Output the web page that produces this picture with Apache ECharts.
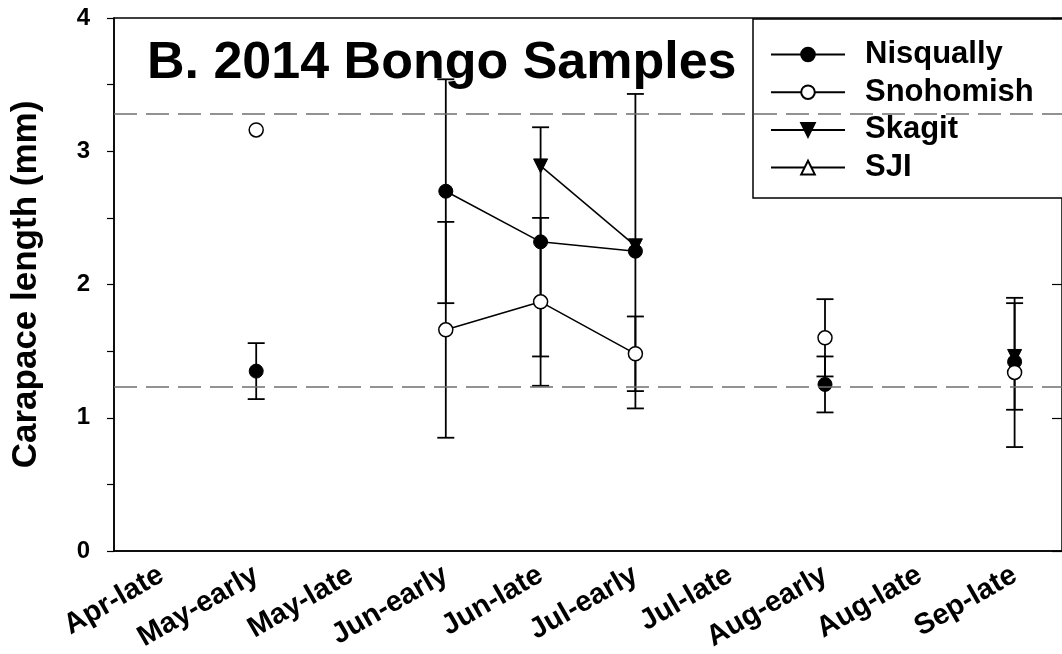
<!DOCTYPE html>
<html>
<head>
<meta charset="utf-8">
<title>2014 Bongo Samples</title>
<script src="https://cdn.jsdelivr.net/npm/echarts@6/dist/echarts.min.js"></script>
<style>
    html, body { margin: 0; padding: 0; background: #fff; }
    #chart { width: 1062px; height: 654px; }
</style>
</head>
<body>
<div id="chart"></div>
<script>
// ===== Data =====
const categories = ["Apr-late", "May-early", "May-late", "Jun-early", "Jun-late",
    "Jul-early", "Jul-late", "Aug-early", "Aug-late", "Sep-late"];

const nisqually    = [null, 1.35, null, 2.70, 2.32, 2.25, null, 1.25, null, 1.42];
const nisquallyErr = [null, 0.21, null, 0.84, 0.86, 1.18, null, 0.21, null, null];

const snohomish    = [null, 3.16, null, 1.66, 1.87, 1.48, null, 1.60, null, 1.34];
const snohomishErr = [null, null, null, 0.81, 0.63, 0.28, null, 0.29, null, 0.56];

const skagit    = [null, null, null, null, 2.89, 2.29, null, null, null, 1.46];
const skagitErr = [null, null, null, null, null, null, null, null, null, 0.40];

const sji = [null, null, null, null, null, null, null, null, null, null];

const refLines = [3.28, 1.23];
const yTicks = [0, 1, 2, 3, 4];

const FONT = "'Liberation Sans', Arial, sans-serif";

document.addEventListener("DOMContentLoaded", () => {
    const chart = echarts.init(document.getElementById("chart"));

    // error bars : [index, low, high]
    function errData(vals, errs) {
        const out = [];
        vals.forEach((v, i) => {
            if (v != null && errs[i] != null) out.push([i, v - errs[i], v + errs[i]]);
        });
        return out;
    }

    function errSeries(vals, errs) {
        return {
            type: "custom",
            z: 1,
            silent: true,
            data: errData(vals, errs),
            renderItem: (params, api) => {
                const top = api.coord([api.value(0), api.value(2)]);
                const bot = api.coord([api.value(0), api.value(1)]);
                const cap = 8.5;
                const style = { stroke: "#000", lineWidth: 1.8 };
                return {
                    type: "group",
                    children: [
                        { type: "line", shape: { x1: top[0], y1: top[1], x2: bot[0], y2: bot[1] }, style },
                        { type: "line", shape: { x1: top[0] - cap, y1: top[1], x2: top[0] + cap, y2: top[1] }, style },
                        { type: "line", shape: { x1: bot[0] - cap, y1: bot[1], x2: bot[0] + cap, y2: bot[1] }, style }
                    ]
                };
            }
        };
    }

    const lineStyle = { color: "#000", width: 1.5 };

    chart.setOption({
        animation: false,
        backgroundColor: "#fff",
        textStyle: { fontFamily: FONT },
        title: {
            text: "B. 2014 Bongo Samples",
            left: 147,
            top: 38,
            padding: 0,
            textStyle: { fontFamily: FONT, fontSize: 52, fontWeight: "bold", color: "#000" }
        },
        legend: {
            orient: "vertical",
            left: 753,
            top: 19,
            padding: [20, 60, 15, 17],
            itemGap: 6.7,
            itemWidth: 74,
            itemHeight: 17,
            backgroundColor: "#fff",
            borderColor: "#000",
            borderWidth: 1.5,
            borderRadius: 0,
            selectedMode: false,
            data: ["Nisqually", "Snohomish", "Skagit", "SJI"],
            textStyle: {
                fontFamily: FONT, fontSize: 31, fontWeight: "bold", color: "#000",
                lineHeight: 30, padding: [0, 0, 0, 15]
            }
        },
        grid: {
            left: 114, top: 18, width: 954, height: 533,
            show: true, borderColor: "#000", borderWidth: 1.5, backgroundColor: "transparent"
        },
        xAxis: {
            type: "category",
            data: categories,
            boundaryGap: true,
            axisLine: { lineStyle: { color: "#000", width: 1.5 } },
            axisTick: { alignWithLabel: true, length: 7, lineStyle: { color: "#000", width: 1.2 } },
            axisLabel: {
                interval: 0, rotate: 30, margin: 22, color: "#000",
                fontFamily: FONT, fontSize: 29, fontWeight: "bold"
            }
        },
        yAxis: [
            {
                type: "value",
                min: 0, max: 4, interval: 0.5,
                name: "Carapace length (mm)",
                nameLocation: "middle",
                nameGap: 70,
                nameTextStyle: { fontFamily: FONT, fontSize: 35, fontWeight: "bold", color: "#000" },
                axisLine: { show: true, lineStyle: { color: "#000", width: 1.5 } },
                axisTick: { show: true, length: 7, lineStyle: { color: "#000", width: 1.2 } },
                splitLine: { show: false },
                axisLabel: {
                    margin: 24, color: "#000",
                    fontFamily: FONT, fontSize: 24, fontWeight: "bold",
                    formatter: v => (yTicks.includes(v) ? String(v) : "")
                }
            },
            {
                // mirror ticks on the right frame
                type: "value",
                position: "right",
                min: 0, max: 4, interval: 1,
                axisLine: { show: false },
                axisTick: { show: true, inside: true, length: 10, lineStyle: { color: "#000", width: 1.2 } },
                axisLabel: { show: false },
                splitLine: { show: false }
            }
        ],
        series: [
            errSeries(nisqually, nisquallyErr),
            errSeries(snohomish, snohomishErr),
            errSeries(skagit, skagitErr),
            {
                name: "Nisqually",
                type: "line",
                z: 3,
                data: nisqually,
                symbol: "circle",
                symbolSize: 14,
                lineStyle,
                itemStyle: { color: "#000", borderColor: "#000", borderWidth: 1 },
                markLine: {
                    silent: true,
                    symbol: "none",
                    label: { show: false },
                    lineStyle: { color: "#6f6f6f", width: 1.5, type: [23, 9] },
                    data: refLines.map(v => ({ yAxis: v }))
                }
            },
            {
                name: "Skagit",
                type: "line",
                z: 4,
                data: skagit,
                symbol: "triangle",
                symbolRotate: 180,
                symbolSize: 14,
                lineStyle,
                itemStyle: { color: "#000", borderColor: "#000", borderWidth: 1 }
            },
            {
                name: "Snohomish",
                type: "line",
                z: 5,
                data: snohomish,
                symbol: "circle",
                symbolSize: 14,
                lineStyle,
                itemStyle: { color: "#fff", borderColor: "#000", borderWidth: 1.5 }
            },
            {
                name: "SJI",
                type: "line",
                z: 5,
                data: sji,
                symbol: "triangle",
                symbolSize: 12,
                lineStyle,
                itemStyle: { color: "#fff", borderColor: "#000", borderWidth: 1.5 }
            }
        ]
    });

    window.addEventListener("resize", () => chart.resize());
});
</script>
</body>
</html>
